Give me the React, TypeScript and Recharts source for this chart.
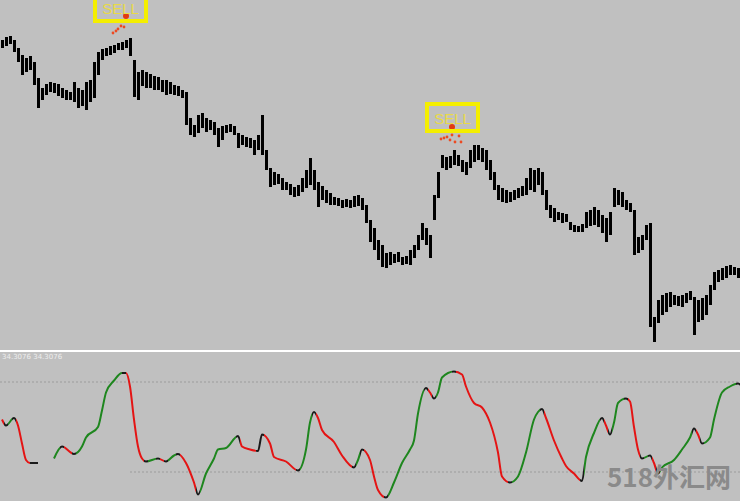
import { Bar, ComposedChart, Line, LineChart, ReferenceLine, Scatter, XAxis, YAxis } from 'recharts';

// price bars, one per bar index (arbitrary price units)
const barHighs = [
  310, 313, 314, 310, 302, 295, 292, 294, 288, 272,
  262, 266, 268, 267, 266, 262, 260, 258, 268, 262,
  260, 268, 270, 288, 298, 301, 302, 304, 305, 307,
  308, 310, 312, 290, 278, 280, 278, 276, 274, 273,
  270, 270, 268, 265, 264, 260, 258, 232, 225, 235,
  237, 232, 230, 228, 222, 224, 225, 226, 224, 217,
  215, 213, 212, 210, 215, 235, 200, 182, 178, 176,
  172, 168, 166, 163, 165, 172, 180, 192, 180, 168,
  164, 160, 157, 153, 152, 150, 151, 150, 154, 155,
  152, 145, 130, 122, 110, 105, 97, 98, 96, 98,
  93, 94, 100, 105, 115, 127, 122, 115, 155, 178,
  195, 193, 194, 200, 195, 190, 188, 200, 205, 205,
  202, 200, 190, 178, 165, 162, 160, 158, 160, 162,
  164, 172, 182, 180, 182, 178, 160, 145, 142, 138,
  137, 136, 128, 125, 124, 126, 138, 140, 143, 140,
  135, 132, 138, 162, 160, 158, 150, 147, 140, 113,
  115, 125, 127, 33, 50, 55, 57, 58, 55, 54,
  55, 57, 59, 53, 50, 52, 55, 65, 78, 80,
  82, 84, 85, 83, 82,
];

const barLows = [
  302, 304, 306, 298, 288, 275, 278, 280, 265, 242,
  250, 255, 258, 257, 254, 252, 250, 250, 248, 242,
  244, 240, 248, 252, 275, 290, 294, 295, 297, 300,
  300, 302, 294, 253, 250, 264, 262, 262, 260, 260,
  258, 255, 256, 255, 254, 252, 225, 215, 213, 217,
  222, 218, 220, 215, 203, 210, 217, 218, 215, 202,
  205, 203, 202, 195, 200, 195, 180, 163, 165, 166,
  160, 160, 155, 153, 154, 158, 162, 165, 160, 143,
  150, 147, 145, 145, 144, 142, 143, 142, 143, 144,
  140, 127, 108, 100, 90, 83, 82, 85, 87, 88,
  85, 86, 85, 92, 100, 110, 105, 92, 130, 152,
  182, 180, 182, 185, 184, 178, 175, 182, 188, 190,
  188, 180, 170, 160, 150, 148, 147, 148, 150, 152,
  154, 155, 160, 158, 165, 155, 140, 132, 128, 130,
  127, 128, 120, 118, 118, 118, 122, 124, 125, 123,
  117, 108, 115, 143, 145, 143, 140, 138, 95, 97,
  100, 110, 23, 8, 27, 35, 38, 43, 45, 44,
  43, 47, 50, 15, 28, 30, 35, 45, 60, 68,
  70, 72, 75, 75, 72,
];

// SELL signals
const sellBars = [30, 113];
const sellPrices = [327, 217];
const entryBars = [31, 112.5];
const entryPrices = [334, 223];
const trailBars = [27.75, 28.5, 29, 29.75, 30.5, 109.75, 110.5, 111.25, 112, 112.5, 113.25, 114.25, 114.75];
const trailPrices = [317, 319, 321, 324, 323, 211, 212, 213, 210, 215, 208, 214, 208];

// oscillator (null = gap)
const oscBars = [
  0, 1, 3, 4, 5, 6, 7, 9, 11, 13, 15, 18, 20, 21, 24, 25, 26, 28, 30, 31,
  32, 33, 34, 35, 36, 39, 41, 43, 44, 46, 48, 49, 51, 53, 54, 56, 59, 60, 62, 64,
  65, 67, 68, 71, 74, 76, 77, 78, 79, 80, 83, 85, 88, 89, 90, 92, 93, 94, 96, 98,
  100, 102, 103, 104, 106, 107, 108, 109, 110, 113, 115, 116, 118, 120, 121, 122, 124, 125, 127, 129,
  131, 133, 134, 135, 136, 138, 140, 141, 143, 145, 146, 148, 150, 151, 152, 153, 154, 156, 157, 158,
  159, 160, 162, 163, 164, 165, 168, 170, 172, 173, 174, 175, 177, 178, 180, 182, 184, 185,
];
const oscValues: (number | null)[] = [
  55, 51, 56, 51, 39, 28, 26, 26, null, 29, 37, 32, 37, 43, 50, 61, 73, 81, 86, 86,
  77, 55, 37, 29, 27, 29, 27, 31, 32, 26, 13, 5, 19, 29, 35, 36, 44, 37, 35, 34,
  45, 39, 30, 27, 21, 35, 53, 60, 56, 48, 40, 31, 23, 28, 35, 28, 17, 8, 3, 13,
  26, 35, 41, 59, 76, 73, 69, 73, 83, 87, 85, 77, 66, 63, 59, 53, 33, 17, 13, 17,
  33, 55, 60, 62, 56, 41, 29, 24, 19, 14, 30, 46, 56, 51, 45, 53, 66, 69, 67, 50,
  35, 29, 31, 26, 19, 23, 28, 35, 43, 49, 45, 39, 43, 55, 73, 77, 79, 77,
];
const upperLevel = 80;
const lowerLevel = 20;
const lowerLevelFrom = 32;

const BG = '#c0c0c0';
const UP = '#1e861e';
const DOWN = '#e41414';
const TURN = '#1a1a1a';
const DOMAIN: [number, number] = [-0.5, 184.5];

const priceData = barHighs.map((h, i) => ({ bar: i, range: [barLows[i], h] }));
const sellData = sellBars.map((b, i) => ({ bar: b, price: sellPrices[i] }));
const entryData = entryBars.map((b, i) => ({ bar: b, price: entryPrices[i] }));
const trailData = trailBars.map((b, i) => ({ bar: b, price: trailPrices[i] }));
const oscData = oscBars.map((b, i) => ({ bar: b, osc: oscValues[i] }));

// colour the oscillator by slope: green rising, red falling, dark at turns
function slopeStops() {
  const first = oscBars[0];
  const span = oscBars[oscBars.length - 1] - first;
  const f = (b: number) => (b - first) / span;
  const d = 0.4 / span;
  const n = oscValues.length;
  const dirAt = (i: number) => {
    const a = oscValues[i];
    const b = oscValues[i + 1];
    if (i < 0 || i + 1 >= n || a == null || b == null) return null;
    return Math.sign(b - a);
  };
  const stops: { off: number; color: string }[] = [];
  for (let i = 0; i < n - 1; i++) {
    const dir = dirAt(i);
    if (dir == null) continue;
    const color = dir > 0 ? UP : dir < 0 ? DOWN : TURN;
    const prev = dirAt(i - 1);
    const next = dirAt(i + 1);
    const startTurn = prev != null && prev !== 0 && dir !== 0 && prev !== dir;
    const endTurn = next != null && next !== 0 && dir !== 0 && next !== dir;
    let s = f(oscBars[i]);
    let e = f(oscBars[i + 1]);
    if (startTurn) {
      stops.push({ off: s, color: TURN }, { off: s + d, color: TURN });
      s += d;
    }
    if (endTurn) e -= d;
    stops.push({ off: s, color }, { off: e, color });
    if (endTurn) stops.push({ off: e, color: TURN }, { off: e + d, color: TURN });
  }
  return stops;
}

const SellLabel = (props: any) => {
  const { cx, cy } = props;
  return (
    <g>
      <rect x={cx - 27} y={cy - 29} width={51} height={27} fill="none" stroke="#f4ee00" strokeWidth={4} />
      <text
        x={cx - 1.5}
        y={cy - 9}
        textAnchor="middle"
        fontSize={15}
        fill="#e8da48"
        fontFamily="'Liberation Sans', Arial, sans-serif"
      >
        SELL
      </text>
    </g>
  );
};

const EntryDot = (props: any) => <circle cx={props.cx} cy={props.cy} r={3} fill="#e23a10" />;
const TrailDot = (props: any) => <circle cx={props.cx} cy={props.cy} r={1.4} fill="#ec4a22" />;

export default function App() {
  const stops = slopeStops();
  return (
    <div
      style={{
        position: 'fixed',
        left: 0,
        top: 0,
        width: 740,
        height: 501,
        overflow: 'hidden',
        background: BG,
      }}
    >
      <ComposedChart width={740} height={350} data={priceData} margin={{ top: 0, right: 0, bottom: 0, left: 0 }}>
        <XAxis dataKey="bar" hide />
        <XAxis xAxisId="t" type="number" dataKey="bar" domain={DOMAIN} hide />
        <YAxis domain={[0, 350]} hide />
        <Bar dataKey="range" fill="#000" barSize={3} isAnimationActive={false} />
        <Scatter xAxisId="t" data={trailData} dataKey="price" shape={TrailDot} isAnimationActive={false} />
        <Scatter xAxisId="t" data={entryData} dataKey="price" shape={EntryDot} isAnimationActive={false} />
        <Scatter xAxisId="t" data={sellData} dataKey="price" shape={SellLabel} isAnimationActive={false} />
      </ComposedChart>
      <div style={{ height: 2, background: '#fff' }} />
      <LineChart width={740} height={150} data={oscData} margin={{ top: 0, right: 0, bottom: 0, left: 0 }}>
        <defs>
          <linearGradient id="oscStroke" x1="0" y1="0" x2="1" y2="0">
            {stops.map((s, i) => (
              <stop key={i} offset={s.off} stopColor={s.color} />
            ))}
          </linearGradient>
        </defs>
        <XAxis type="number" dataKey="bar" domain={DOMAIN} allowDataOverflow hide />
        <YAxis domain={[0, 100]} hide />
        <ReferenceLine y={upperLevel} stroke="#9c9c9c" strokeDasharray="2 2" />
        <ReferenceLine
          segment={[
            { x: lowerLevelFrom, y: lowerLevel },
            { x: DOMAIN[1], y: lowerLevel },
          ]}
          stroke="#9c9c9c"
          strokeDasharray="2 2"
        />
        <Line
          type="monotone"
          dataKey="osc"
          stroke="url(#oscStroke)"
          strokeWidth={2}
          dot={false}
          connectNulls={false}
          isAnimationActive={false}
        />
      </LineChart>
      <svg width={740} height={501} style={{ position: 'absolute', left: 0, top: 0, pointerEvents: 'none' }}>
        <text x={2} y={359} fontSize={7} fill="#eeeeee" fontFamily="'DejaVu Sans', sans-serif">
          34.3076 34.3076
        </text>
        <text
          x={607}
          y={487}
          fontSize={26}
          fontWeight="bold"
          fill="#8a8a8a"
          fontFamily="'Noto Sans CJK SC', sans-serif"
        >
          518外汇网
        </text>
      </svg>
    </div>
  );
}
